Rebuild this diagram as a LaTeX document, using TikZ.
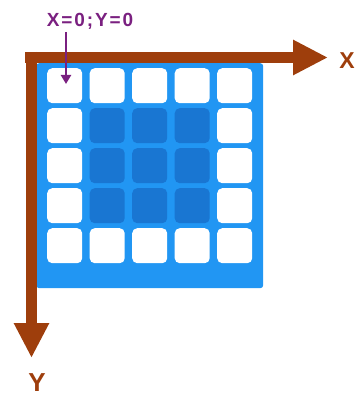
\documentclass[tikz,border=0pt]{standalone}
\usepackage{fontspec}
\setmainfont{Liberation Sans}
\newfontfamily\boldsans{Liberation Sans Bold}
\newfontfamily\lblfont[LetterSpace=10]{Liberation Sans Bold}
\usetikzlibrary{arrows.meta}
\definecolor{axisbrown}{RGB}{158,62,12}
\definecolor{lblpurple}{RGB}{122,32,128}
\definecolor{gridblue}{RGB}{33,150,243}
\definecolor{darkblue}{RGB}{25,118,210}
\tikzset{
  axis/.style={draw=axisbrown, line width=11.5pt, line cap=butt,
    -{Triangle[length=35pt,width=33pt]}},
  pointer/.style={draw=lblpurple, line width=2.6pt,
    -{Triangle[length=9pt,width=10pt]}},
  cell/.style={rectangle, rounded corners=5pt, minimum width=35pt,
    minimum height=35pt, inner sep=0pt, anchor=north west},
  whitecell/.style={cell, fill=white},
  darkcell/.style={cell, fill=darkblue},
  axislabel/.style={text=axisbrown, font=\boldsans\fontsize{23}{23}\selectfont, inner sep=0pt},
  ptlabel/.style={text=lblpurple, font=\lblfont\fontsize{19}{19}\selectfont, inner sep=0pt}
}
\begin{document}
\begin{tikzpicture}[x=1pt,y=-1pt]
\useasboundingbox (0,0) rectangle (363,401);
% board
\node[fill=gridblue, rounded corners=3pt, minimum width=227pt, minimum height=225pt,
  inner sep=0pt, anchor=north west] (board) at (36,63) {};
% cells
\foreach \r in {0,...,4}{
  \foreach \c in {0,...,4}{
    \pgfmathtruncatemacro{\inner}{(\r>0)&&(\r<4)&&(\c>0)&&(\c<4)}
    \ifnum\inner=1
      \node[darkcell] (c-\r-\c) at ({47+42.5*\c},{68+40*\r}) {};
    \else
      \node[whitecell] (c-\r-\c) at ({47+42.5*\c},{68+40*\r}) {};
    \fi
  }
}
% axes
\coordinate (xstart) at (25,57.5);
\coordinate (xend) at (328,57.5);
\coordinate (ystart) at (31.5,52);
\coordinate (yend) at (31.5,358);
\draw[axis] (xstart) -- (xend);
\draw[axis] (ystart) -- (yend);
\node[axislabel] (xl) at (347,60.5) {X};
\node[axislabel, font=\boldsans\fontsize{26}{26}\selectfont] (yl) at (37,383) {Y};
% origin label
\node[ptlabel] (lbl) at (90,21.5) {X=0;Y=0};
\coordinate (ptstart) at (66,32);
\coordinate (ptend) at (66,84);
\draw[pointer] (ptstart) -- (ptend);
\end{tikzpicture}
\end{document}
